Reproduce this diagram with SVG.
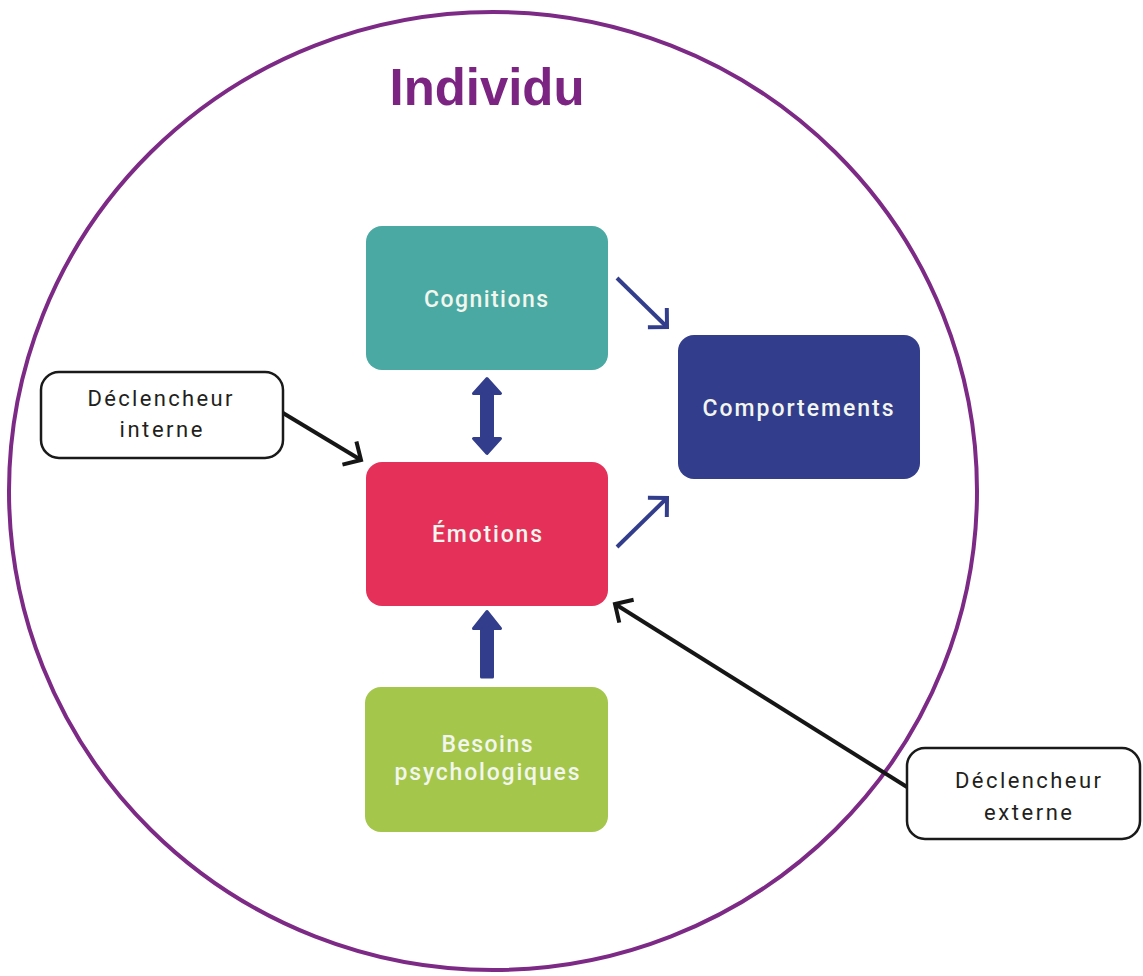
<svg xmlns="http://www.w3.org/2000/svg" width="1143" height="976" viewBox="0 0 1143 976">
<style>
.lbl{font-family:Roboto,"Liberation Sans",sans-serif;font-size:23px;font-weight:500;text-anchor:middle;fill:#f2f6ee}
.trig{font-family:Roboto,"Liberation Sans",sans-serif;font-size:22px;text-anchor:middle;fill:#231f20}
.tbox{fill:#ffffff;stroke:#1a1a1a;stroke-width:2.5}
.nav{stroke:#323d8c;stroke-width:4;fill:none}
.blk{stroke:#161616;stroke-width:4;fill:none}
.block{fill:#323d8c;stroke:#323d8c;stroke-width:3;stroke-linejoin:round}
</style>
<defs>
<marker id="hn" viewBox="-16 -16 20 32" refX="0" refY="0" markerWidth="20" markerHeight="32" markerUnits="userSpaceOnUse" orient="auto">
<path d="M-13.5,-13.5 L0,0 L-13.5,13.5" fill="none" stroke="#323d8c" stroke-width="4"/>
</marker>
<marker id="hb" viewBox="-16 -16 20 32" refX="0" refY="0" markerWidth="20" markerHeight="32" markerUnits="userSpaceOnUse" orient="auto">
<path d="M-13.5,-13.5 L0,0 L-13.5,13.5" fill="none" stroke="#161616" stroke-width="4"/>
</marker>
</defs>
<rect width="1143" height="976" fill="#ffffff"/>
<g id="individu">
<ellipse cx="493" cy="491" rx="484" ry="479" fill="none" stroke="#7d2a86" stroke-width="4"/>
<text x="487" y="105" font-family="'Liberation Sans',Arial,sans-serif" font-weight="bold" font-size="52" fill="#7b2481" text-anchor="middle" textLength="195" lengthAdjust="spacingAndGlyphs">Individu</text>
</g>
<g id="connectors">
<line class="nav" x1="617" y1="278" x2="667" y2="327" marker-end="url(#hn)"/>
<line class="nav" x1="617" y1="547" x2="667" y2="498" marker-end="url(#hn)"/>
<path class="block" d="M487,378.5 L500.5,393.5 L492.5,393.5 L492.5,438.5 L500.5,438.5 L487,453.5 L473.5,438.5 L481.5,438.5 L481.5,393.5 L473.5,393.5 Z"/>
<path class="block" d="M487,611.5 L500.5,628.5 L492.5,628.5 L492.5,677 L481.5,677 L481.5,628.5 L473.5,628.5 Z"/>
<line class="blk" x1="283" y1="413" x2="361" y2="460" marker-end="url(#hb)"/>
<line class="blk" x1="907" y1="787" x2="615" y2="604" marker-end="url(#hb)"/>
</g>
<g id="cognitions">
<rect x="366" y="226" width="242" height="144" rx="16" fill="#4aa9a2"/>
<text class="lbl" x="486" y="307" textLength="124" lengthAdjust="spacing">Cognitions</text>
</g>
<g id="emotions">
<rect x="366" y="462" width="242" height="144" rx="16" fill="#e5305a"/>
<text class="lbl" x="487" y="542" textLength="110" lengthAdjust="spacing" fill="#fbe3e6">Émotions</text>
</g>
<g id="besoins">
<rect x="365" y="687" width="243" height="145" rx="16" fill="#a4c64b"/>
<text class="lbl" x="487" y="752" textLength="91" lengthAdjust="spacing">Besoins</text>
<text class="lbl" x="487" y="780" textLength="185" lengthAdjust="spacing">psychologiques</text>
</g>
<g id="comportements">
<rect x="678" y="335" width="242" height="144" rx="16" fill="#323d8c"/>
<text class="lbl" x="798" y="416" textLength="191" lengthAdjust="spacing" fill="#e6e8f4">Comportements</text>
</g>
<g id="declencheur-interne">
<rect class="tbox" x="41" y="372" width="242" height="86" rx="18"/>
<text class="trig" x="160" y="406" textLength="145" lengthAdjust="spacing">Déclencheur</text>
<text class="trig" x="161" y="437" textLength="83" lengthAdjust="spacing">interne</text>
</g>
<g id="declencheur-externe">
<rect class="tbox" x="907" y="748" width="233" height="91" rx="18"/>
<text class="trig" x="1028" y="788" textLength="146" lengthAdjust="spacing">Déclencheur</text>
<text class="trig" x="1028" y="820" textLength="88" lengthAdjust="spacing">externe</text>
</g>
</svg>
